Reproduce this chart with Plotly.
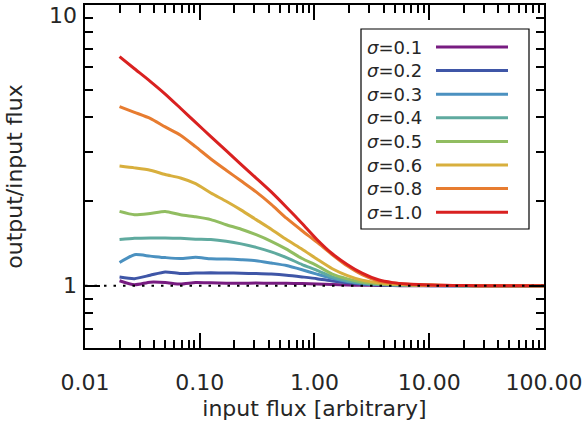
import plotly.graph_objects as go
import math

# ---------------- data ----------------
x_flux = [0.02, 0.027, 0.037, 0.05, 0.068, 0.092, 0.125, 0.17, 0.23, 0.31,
          0.42, 0.57, 0.78, 1.05, 1.43, 1.94, 2.6, 3.6, 4.8, 6.5,
          8.9, 12, 16, 22, 30, 40, 55, 74, 100]

sigma_labels = ["0.1", "0.2", "0.3", "0.4", "0.5", "0.6", "0.8", "1.0"]

ratio_s01 = [1.042, 1.008, 1.030, 1.027, 1.014, 1.027, 1.024, 1.020, 1.020, 1.022,
             1.020, 1.020, 1.018, 1.015, 1.010, 1.006, 1.004, 1.002, 1.001, 1.000,
             1.000, 1.000, 1.000, 1.000, 1.000, 1.000, 1.000, 1.000, 1.000]
ratio_s02 = [1.074, 1.060, 1.090, 1.120, 1.105, 1.110, 1.112, 1.110, 1.108, 1.105,
             1.100, 1.090, 1.075, 1.060, 1.040, 1.024, 1.013, 1.007, 1.004, 1.002,
             1.001, 1.000, 1.000, 1.000, 1.000, 1.000, 1.000, 1.000, 1.000]
ratio_s03 = [1.210, 1.290, 1.275, 1.260, 1.250, 1.262, 1.248, 1.245, 1.238, 1.228,
             1.205, 1.180, 1.140, 1.100, 1.062, 1.035, 1.019, 1.010, 1.006, 1.003,
             1.002, 1.001, 1.000, 1.000, 1.000, 1.000, 1.000, 1.000, 1.000]
ratio_s04 = [1.460, 1.475, 1.480, 1.480, 1.475, 1.465, 1.460, 1.440, 1.410, 1.370,
             1.320, 1.260, 1.190, 1.135, 1.075, 1.042, 1.023, 1.012, 1.007, 1.004,
             1.003, 1.001, 1.001, 1.000, 1.000, 1.000, 1.000, 1.000, 1.000]
ratio_s05 = [1.840, 1.790, 1.810, 1.840, 1.790, 1.760, 1.720, 1.650, 1.590, 1.520,
             1.440, 1.350, 1.250, 1.180, 1.100, 1.058, 1.032, 1.017, 1.010, 1.006,
             1.004, 1.002, 1.001, 1.000, 1.000, 1.000, 1.000, 1.000, 1.000]
ratio_s06 = [2.670, 2.630, 2.580, 2.490, 2.420, 2.310, 2.140, 2.000, 1.860, 1.720,
             1.590, 1.460, 1.350, 1.245, 1.150, 1.087, 1.047, 1.025, 1.014, 1.008,
             1.005, 1.003, 1.002, 1.001, 1.000, 1.000, 1.000, 1.000, 1.000]
ratio_s08 = [4.350, 4.150, 3.950, 3.680, 3.440, 3.130, 2.830, 2.580, 2.360, 2.160,
             1.950, 1.740, 1.570, 1.430, 1.290, 1.175, 1.095, 1.040, 1.022, 1.012,
             1.007, 1.004, 1.002, 1.001, 1.000, 1.000, 1.000, 1.000, 1.000]
ratio_s10 = [6.550, 5.930, 5.350, 4.820, 4.290, 3.820, 3.400, 3.030, 2.700, 2.420,
             2.160, 1.905, 1.667, 1.462, 1.300, 1.189, 1.109, 1.050, 1.026, 1.014,
             1.008, 1.005, 1.002, 1.001, 1.000, 1.000, 1.000, 1.000, 1.000]

series = [ratio_s01, ratio_s02, ratio_s03, ratio_s04,
          ratio_s05, ratio_s06, ratio_s08, ratio_s10]

ref_x = [0.01, 100]
ref_y = [1, 1]

x_tickvals = [0.01, 0.1, 1, 10, 100]
x_ticktext = ["0.01", "0.10", "1.00", "10.00", "100.00"]
y_tickvals = [1, 10]
y_ticktext = ["1", "10"]

# ---------------- style ----------------
colors = ["#781C81", "#3F56A7", "#4B91C0", "#5FAA9F",
          "#91BD61", "#D8AF3D", "#E77C30", "#D92120"]
FONT = "DejaVu Sans"
TXT = "#262626"
W, H = 585, 427
L, R, T, B = 85, 41, 5, 79
PW, PH = W - L - R, H - T - B
Y_LABEL_SHIFT = [0, -10]   # the top "10" label sits just below the frame corner

def px2paper(px, py):
    return (px - L) / PW, (H - B - py) / PH

fig = go.Figure()
for vals, lab, col in zip(series, sigma_labels, colors):
    fig.add_trace(go.Scatter(x=x_flux, y=vals, mode="lines", name="σ=" + lab,
                             line=dict(color=col, width=3, shape="spline", smoothing=0.6),
                             showlegend=False))

fig.add_trace(go.Scatter(x=ref_x, y=ref_y, mode="lines", showlegend=False,
                         line=dict(color="black", width=2, dash="2.5px,7px")))

# custom legend: text left, line sample right
x0, y0 = px2paper(361, 29)
x1, y1 = px2paper(529, 229)
fig.add_shape(type="rect", xref="paper", yref="paper", x0=x0, y0=y1, x1=x1, y1=y0,
              line=dict(color="black", width=1.2), fillcolor="white", layer="above")
row0, dy = 47, 23.6
for i, (lab, col) in enumerate(zip(sigma_labels, colors)):
    py = row0 + i * dy
    tx, ty = px2paper(365, py)
    fig.add_annotation(xref="paper", yref="paper", x=tx, y=ty, xanchor="left",
                       yanchor="middle", showarrow=False,
                       text="<i>σ</i>=" + lab,
                       font=dict(family=FONT, size=18, color=TXT))
    lx0, ly = px2paper(436, py)
    lx1, _ = px2paper(508, py)
    fig.add_shape(type="line", xref="paper", yref="paper", x0=lx0, x1=lx1, y0=ly, y1=ly,
                  line=dict(color=col, width=3), layer="above")

# y tick labels as text next to the frame
for v, t, sh in zip(y_tickvals, y_ticktext, Y_LABEL_SHIFT):
    fig.add_annotation(xref="paper", yref="y", x=0, y=math.log10(v), xanchor="right",
                       yanchor="middle", showarrow=False, text=t, xshift=-6, yshift=sh,
                       font=dict(family=FONT, size=22, color=TXT))

axis_common = dict(showline=True, linecolor="black", linewidth=2, mirror="ticks",
                   ticks="inside", tickcolor="black", tickwidth=2, ticklen=15,
                   showgrid=False, zeroline=False, automargin=False,
                   ticklabeloverflow="allow",
                   tickfont=dict(family=FONT, size=22, color=TXT),
                   minor=dict(ticks="inside", ticklen=8, tickwidth=2, tickcolor="black",
                              dtick="D1", showgrid=False))

fig.update_xaxes(type="log", range=[-2, 2.0003], tickvals=x_tickvals, ticktext=x_ticktext,
                 ticklabelstandoff=14,
                 title=dict(text="input flux [arbitrary]", standoff=6,
                            font=dict(family=FONT, size=22, color=TXT)),
                 **axis_common)
fig.update_yaxes(type="log", range=[math.log10(0.6), 1.0003], tickvals=y_tickvals,
                 showticklabels=False,
                 title=dict(text="output/input flux", standoff=54,
                            font=dict(family=FONT, size=22, color=TXT)),
                 **axis_common)

fig.update_layout(width=W, height=H, margin=dict(l=L, r=R, t=T, b=B),
                  paper_bgcolor="white", plot_bgcolor="white",
                  font=dict(family=FONT, size=20, color=TXT))

fig.write_html("out.html", config={"displayModeBar": False},
               post_script="document.body.style.margin='0';document.body.style.padding='0';")
